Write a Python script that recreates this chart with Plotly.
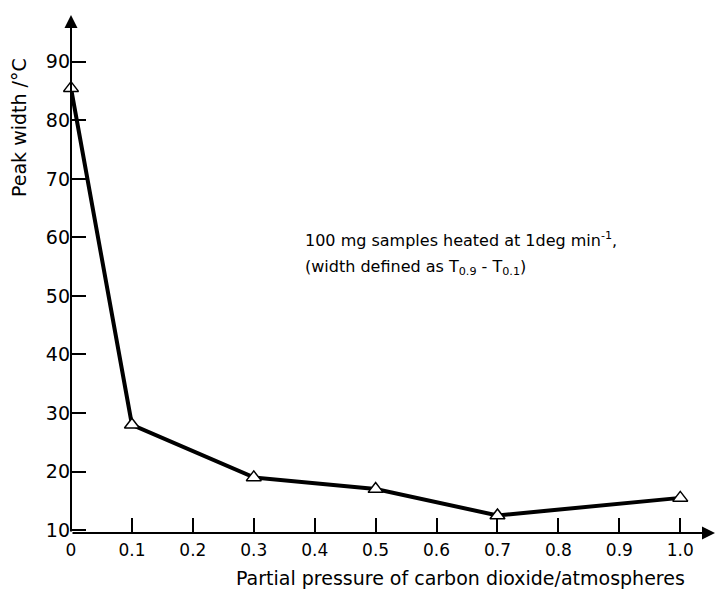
import plotly.graph_objects as go

pressure = [0.0, 0.1, 0.3, 0.5, 0.7, 1.0]
peak_width = [85.5, 28.0, 19.0, 17.0, 12.5, 15.5]

x_ticks = [0, 0.1, 0.2, 0.3, 0.4, 0.5, 0.6, 0.7, 0.8, 0.9, 1.0]
x_ticklabels = ["0", "0.1", "0.2", "0.3", "0.4", "0.5", "0.6", "0.7", "0.8", "0.9", "1.0"]
y_ticks = [10, 20, 30, 40, 50, 60, 70, 80, 90]
y_ticklabels = [str(v) for v in y_ticks]

FONT = "DejaVu Sans"
XR = [0, 1.057]
YR = [9.5, 98]
L, R, T, B = 71, 6, 15, 57
W, H = 721, 590
pw, ph = W - L - R, H - T - B

fig = go.Figure()
fig.add_trace(go.Scatter(
    x=pressure, y=peak_width, mode="lines+markers",
    line=dict(color="black", width=4),
    marker=dict(symbol="triangle-up", size=13, color="white",
                line=dict(width=1.5, color="black")),
    cliponaxis=False,
    showlegend=False,
))

fig.update_xaxes(range=XR, tickvals=x_ticks, ticktext=x_ticklabels,
                 ticks="inside", ticklen=15, tickwidth=2, tickcolor="black",
                 ticklabelstandoff=5,
                 showgrid=False, zeroline=False, showline=False,
                 tickfont=dict(family=FONT, size=17, color="black"))
fig.update_yaxes(range=YR, tickvals=y_ticks, ticktext=y_ticklabels,
                 ticks="inside", ticklen=15, tickwidth=2, tickcolor="black",
                 showgrid=False, zeroline=False, showline=False,
                 tickfont=dict(family=FONT, size=19, color="black"))

# axes with arrows
fig.add_annotation(x=XR[1], y=YR[0], ax=0, ay=YR[0], xref="x", yref="y",
                   axref="x", ayref="y", showarrow=True, arrowhead=2,
                   arrowsize=1.3, arrowwidth=2, arrowcolor="black", text="")
fig.add_annotation(x=0, y=YR[1], ax=0, ay=YR[0], xref="x", yref="y",
                   axref="x", ayref="y", showarrow=True, arrowhead=2,
                   arrowsize=1.3, arrowwidth=2, arrowcolor="black", text="")

fig.add_annotation(x=0.380, y=59.6, xref="x", yref="y", xanchor="left", yanchor="middle",
                   text="100 mg samples heated at 1deg min<sup>-1</sup>,",
                   showarrow=False, font=dict(family=FONT, size=16, color="black"))
fig.add_annotation(x=0.380, y=54.8, xref="x", yref="y", xanchor="left", yanchor="middle",
                   text="(width defined as T<sub>0.9</sub> - T<sub>0.1</sub>)",
                   showarrow=False, font=dict(family=FONT, size=16, color="black"))

fig.add_annotation(x=(19 - L) / pw, y=(H - B - 128) / ph, xref="paper", yref="paper",
                   xanchor="center", yanchor="middle",
                   text="Peak width /°C", showarrow=False, textangle=-90,
                   font=dict(family=FONT, size=19, color="black"))
fig.add_annotation(x=(460 - L) / pw, y=(H - B - 578) / ph, xref="paper", yref="paper",
                   xanchor="center", yanchor="middle",
                   text="Partial pressure of carbon dioxide/atmospheres",
                   showarrow=False, font=dict(family=FONT, size=19, color="black"))

fig.update_layout(width=W, height=H, margin=dict(l=L, r=R, t=T, b=B),
                  plot_bgcolor="white", paper_bgcolor="white")

fig.write_html("out.html")
